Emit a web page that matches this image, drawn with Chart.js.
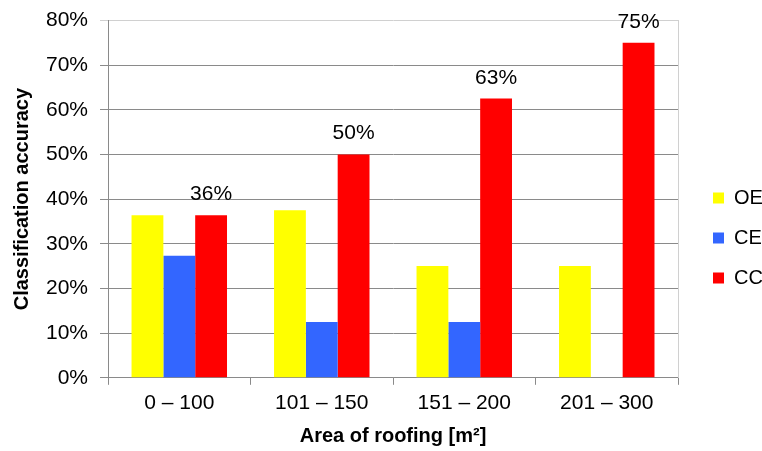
<!DOCTYPE html>
<html>
<head>
<meta charset="utf-8">
<script src="https://cdn.jsdelivr.net/npm/chart.js@4/dist/chart.umd.min.js"></script>
<style>
  html, body { margin: 0; padding: 0; background: #fff; }
  #wrap { width: 762px; height: 451px; }
</style>
</head>
<body>
<div id="wrap"><canvas id="c"></canvas></div>
<script>
// Roof area classes
const categories = ['0 – 100', '101 – 150', '151 – 200', '201 – 300'];

// Classification accuracy per class, in percent
const oeValues = [36.4, 37.5, 25, 25];
const ceValues = [27.3, 12.5, 12.5, 0];
const ccValues = [36.4, 50, 62.5, 75];

// Value axis ticks, in percent
const yTicks = [0, 10, 20, 30, 40, 50, 60, 70, 80];

const FONT = "'Liberation Sans', Arial, sans-serif";
const GRID = '#8a8a8a';
const FRAME = '#d0d0d0';

// Writes the rounded percentage above each CC bar
const valueLabels = {
  id: 'valueLabels',
  afterDatasetsDraw(chart) {
    const ctx = chart.ctx;
    const meta = chart.getDatasetMeta(2);
    ctx.save();
    ctx.font = '21px ' + FONT;
    ctx.fillStyle = '#000';
    ctx.textAlign = 'center';
    ctx.textBaseline = 'alphabetic';
    meta.data.forEach((bar, i) => {
      ctx.fillText(Math.round(ccValues[i]) + '%', bar.x, bar.y - 15);
    });
    ctx.restore();
  }
};

new Chart(document.getElementById('c'), {
  type: 'bar',
  data: {
    labels: categories,
    datasets: [
      { label: 'OE', data: oeValues, backgroundColor: '#ffff00' },
      { label: 'CE', data: ceValues, backgroundColor: '#3366ff' },
      { label: 'CC', data: ccValues, backgroundColor: '#ff0000' }
    ]
  },
  options: {
    responsive: true,
    maintainAspectRatio: false,
    animation: false,
    layout: { padding: { top: 16, left: 4, right: 0, bottom: 3 } },
    datasets: {
      bar: { categoryPercentage: 0.67, barPercentage: 1.0, borderWidth: 0 }
    },
    plugins: {
      legend: {
        position: 'right',
        maxWidth: 69,
        title: { display: true, text: ' ', padding: 0, font: { size: 10 } },
        labels: {
          boxWidth: 11,
          boxHeight: 11,
          padding: 20,
          color: '#000',
          font: { family: FONT, size: 20 }
        }
      },
      tooltip: { enabled: false }
    },
    scales: {
      x: {
        offset: true,
        grid: {
          offset: true,
          drawOnChartArea: false,
          drawTicks: true,
          tickLength: 7,
          color: GRID
        },
        border: { color: GRID },
        ticks: { color: '#000', font: { family: FONT, size: 21 }, padding: 6 },
        title: {
          display: true,
          text: 'Area of roofing [m²]',
          color: '#000',
          font: { family: FONT, size: 20, weight: 'bold' },
          padding: { top: 2, bottom: 0 }
        }
      },
      y: {
        min: 0,
        max: 80,
        afterBuildTicks(scale) {
          scale.ticks = yTicks.map(v => ({ value: v }));
        },
        grid: {
          color: ctx => (ctx.tick && ctx.tick.value === 80 ? FRAME : GRID),
          tickLength: 8
        },
        border: { color: GRID },
        ticks: {
          color: '#000',
          font: { family: FONT, size: 21, lineHeight: 0.8 },
          padding: 12,
          callback: v => v + '%'
        },
        title: {
          display: true,
          text: 'Classification accuracy',
          color: '#000',
          font: { family: FONT, size: 20, weight: 'bold' },
          padding: { top: 6, bottom: 0 }
        }
      },
      // Right edge of the plot frame, plus the gap before the legend
      frame: {
        type: 'linear',
        position: 'right',
        display: true,
        grid: { display: false, drawOnChartArea: false },
        ticks: { display: false },
        border: { display: true, color: FRAME },
        afterFit(scale) { scale.width = 15; }
      }
    }
  },
  plugins: [valueLabels]
});
</script>
</body>
</html>
